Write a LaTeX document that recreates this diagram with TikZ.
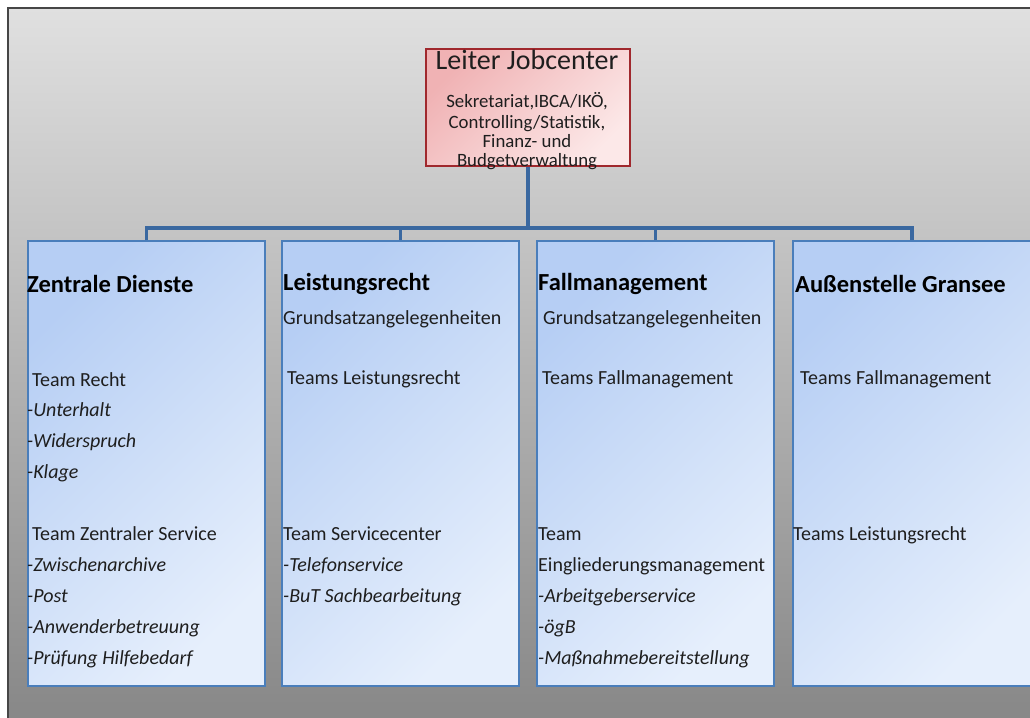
\documentclass[tikz,border=0pt]{standalone}
\usepackage{fontspec}
\setmainfont{Carlito}
\definecolor{bgtop}{RGB}{224,224,224}
\definecolor{bgbot}{RGB}{134,134,134}
\definecolor{framec}{RGB}{70,70,70}
\definecolor{boxdark}{RGB}{182,206,244}
\definecolor{boxlight}{RGB}{230,239,252}
\definecolor{boxline}{RGB}{74,126,187}
\definecolor{connc}{RGB}{58,104,160}
\definecolor{reddark}{RGB}{240,178,180}
\definecolor{redlight}{RGB}{252,232,232}
\definecolor{redline}{RGB}{160,40,45}
\definecolor{txtc}{RGB}{30,30,30}
\tikzset{
  unitbox/.style={draw=boxline, line width=2.2pt, top color=boxdark, bottom color=boxlight, shading angle=45,
    minimum width=237pt, minimum height=445pt, anchor=north west, inner sep=0pt},
  headbox/.style={draw=redline, line width=2.2pt, top color=reddark, bottom color=redlight, shading angle=45,
    minimum width=204pt, minimum height=117pt, anchor=north west, inner sep=0pt},
  conn/.style={draw=connc, line width=3.6pt},
  ttl/.style={anchor=base west, inner sep=0pt, text=black, font=\fontsize{24.5}{28}\selectfont\bfseries},
  txt/.style={anchor=base west, inner sep=0pt, text=txtc, font=\fontsize{20}{23}\selectfont},
  itx/.style={anchor=base west, inner sep=0pt, text=txtc, font=\fontsize{20}{23}\selectfont\itshape},
  toptitle/.style={anchor=base, inner sep=0pt, text=txtc, font=\fontsize{28}{30}\selectfont},
  topsub/.style={anchor=base, inner sep=0pt, text=txtc, font=\fontsize{18.8}{20}\selectfont},
}
\begin{document}
\begin{tikzpicture}[x=1pt,y=-1pt]
\clip (0,0) rectangle (1030,717);
\fill[white] (0,0) rectangle (1030,717);
% background panel
\shade[top color=bgtop, bottom color=bgbot] (8,8) rectangle (1040,730);
\draw[framec, line width=1.6pt] (8,730) -- (8,8) -- (1040,8);

% head box
\node[headbox] (head) at (425,48) {};
\node[toptitle] (headt) at (527,70) {Leiter Jobcenter};
\node[topsub] (heads1) at (527,107) {Sekretariat,IBCA/IKÖ,};
\node[topsub] (heads2) at (527,128) {Controlling/Statistik,};
\node[topsub] (heads3) at (527,147) {Finanz- und};
\node[topsub] (heads4) at (527,166) {Budgetverwaltung};

% unit boxes
\node[unitbox] (b1) at (27,240) {};
\node[unitbox] (b2) at (281,240) {};
\node[unitbox] (b3) at (536,240) {};
\node[unitbox, minimum width=244pt] (b4) at (792,240) {};

% connectors
\coordinate (bus) at (0,228);
\draw[conn] (head.south) -- (head.south |- bus);
\draw[conn] (b1.north) -- (b1.north |- bus) -- ([xshift=-3pt]b4.north |- bus) -- ([xshift=-3pt]b4.north);
\draw[conn] (b2.north) -- (b2.north |- bus);
\draw[conn] (b3.north) -- (b3.north |- bus);

% box 1
\node[ttl] (z0) at (27,292) {Zentrale Dienste};
\node[txt] (z1) at (32,386) {Team Recht};
\node[itx] (z2) at (27,416) {-Unterhalt};
\node[itx] (z3) at (27,447) {-Widerspruch};
\node[itx] (z4) at (27,478) {-Klage};
\node[txt] (z5) at (32,540) {Team Zentraler Service};
\node[itx] (z6) at (27,571) {-Zwischenarchive};
\node[itx] (z7) at (27,602) {-Post};
\node[itx] (z8) at (27,633) {-Anwenderbetreuung};
\node[itx] (z9) at (27,664) {-Prüfung Hilfebedarf};

% box 2
\node[ttl] (l0) at (283,290) {Leistungsrecht};
\node[txt] (l1) at (283,324) {Grundsatzangelegenheiten};
\node[txt] (l2) at (287,384) {Teams Leistungsrecht};
\node[txt] (l3) at (283,540) {Team Servicecenter};
\node[itx] (l4) at (283,571) {-Telefonservice};
\node[itx] (l5) at (283,602) {-BuT Sachbearbeitung};

% box 3
\node[ttl] (f0) at (538,290) {Fallmanagement};
\node[txt] (f1) at (543,324) {Grundsatzangelegenheiten};
\node[txt] (f2) at (542,384) {Teams Fallmanagement};
\node[txt] (f3) at (538,540) {Team};
\node[txt] (f4) at (538,571) {Eingliederungsmanagement};
\node[itx] (f5) at (538,602) {-Arbeitgeberservice};
\node[itx] (f6) at (538,633) {-ögB};
\node[itx] (f7) at (538,664) {-Maßnahmebereitstellung};

% box 4
\node[ttl] (a0) at (795,292) {Außenstelle Gransee};
\node[txt] (a1) at (800,384) {Teams Fallmanagement};
\node[txt] (a2) at (793,540) {Teams Leistungsrecht};
\end{tikzpicture}
\end{document}
